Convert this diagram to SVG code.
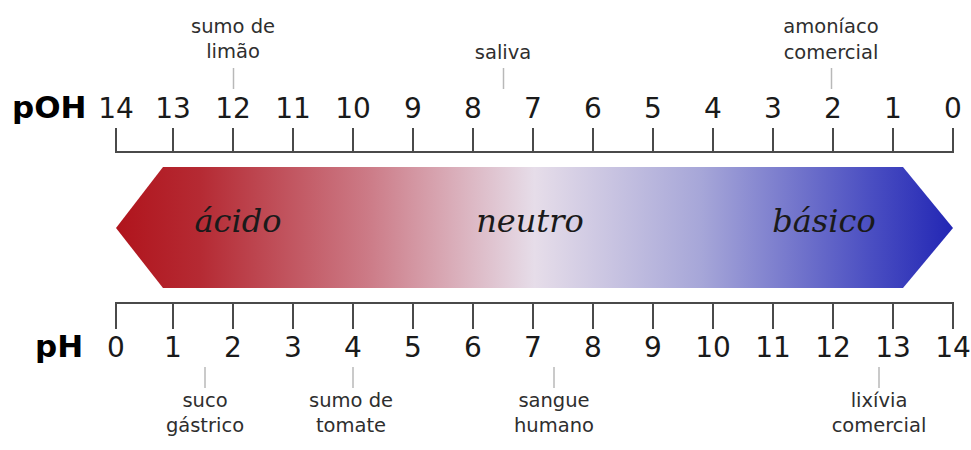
<svg xmlns="http://www.w3.org/2000/svg" width="971" height="450" viewBox="0 0 971 450">
<defs>
<linearGradient id="g" x1="116" y1="0" x2="953" y2="0" gradientUnits="userSpaceOnUse">
<stop offset="0" stop-color="#b0141c"/>
<stop offset="0.1" stop-color="#b52a33"/>
<stop offset="0.3" stop-color="#cc7a86"/>
<stop offset="0.5" stop-color="#e6dde9"/>
<stop offset="0.7" stop-color="#a6a6d8"/>
<stop offset="0.9" stop-color="#4b4fc2"/>
<stop offset="1" stop-color="#2226b4"/>
</linearGradient>
<style>
.ax{stroke:#4a4a4a;stroke-width:2;fill:none}
.ld{stroke:#b8b8b8;stroke-width:1.5}
.num{font-family:"DejaVu Sans",sans-serif;font-size:28px;fill:#1a1a1a;text-anchor:middle}
.big{font-family:"DejaVu Sans",sans-serif;font-size:31px;font-weight:bold;fill:#000}
.lab{font-family:"DejaVu Sans",sans-serif;font-size:19.5px;fill:#2e2e2e;text-anchor:middle}
.it{font-family:"DejaVu Serif",serif;font-style:italic;font-size:32px;fill:#1a1a1a;text-anchor:middle}
</style>
</defs>
<g id="arrow">
<polygon points="116,228 163,167 903,167 953,228 903,288 163,288" fill="url(#g)"/>
<text class="it" x="238" y="232">ácido</text>
<text class="it" x="530" y="232">neutro</text>
<text class="it" x="824" y="232">básico</text>
</g>
<g id="poh-axis">
<path class="ax" d="M116,128V152H953V128M173,128V152M233,128V152M293,128V152M353,128V152M413,128V152M473,128V152M533,128V152M593,128V152M653,128V152M713,128V152M773,128V152M833,128V152M893,128V152"/>
<text class="big" x="12" y="118">pOH</text>
<text class="num" y="118"><tspan x="116">14</tspan><tspan x="173">13</tspan><tspan x="233">12</tspan><tspan x="293">11</tspan><tspan x="353">10</tspan><tspan x="413">9</tspan><tspan x="473">8</tspan><tspan x="533">7</tspan><tspan x="593">6</tspan><tspan x="653">5</tspan><tspan x="713">4</tspan><tspan x="773">3</tspan><tspan x="833">2</tspan><tspan x="893">1</tspan><tspan x="953">0</tspan></text>
</g>
<g id="ph-axis">
<path class="ax" d="M116,329V303H953V329M173,303V329M233,303V329M293,303V329M353,303V329M413,303V329M473,303V329M533,303V329M593,303V329M653,303V329M713,303V329M773,303V329M833,303V329M893,303V329"/>
<text class="big" x="35" y="357">pH</text>
<text class="num" y="357"><tspan x="116">0</tspan><tspan x="173">1</tspan><tspan x="233">2</tspan><tspan x="293">3</tspan><tspan x="353">4</tspan><tspan x="413">5</tspan><tspan x="473">6</tspan><tspan x="533">7</tspan><tspan x="593">8</tspan><tspan x="653">9</tspan><tspan x="713">10</tspan><tspan x="773">11</tspan><tspan x="833">12</tspan><tspan x="893">13</tspan><tspan x="953">14</tspan></text>
</g>
<g id="connectors">
<line class="ld" x1="233.5" y1="68" x2="233.5" y2="89"/>
<line class="ld" x1="503.5" y1="68" x2="503.5" y2="89"/>
<line class="ld" x1="831.5" y1="68" x2="831.5" y2="89"/>
<line class="ld" x1="205" y1="367" x2="205" y2="388"/>
<line class="ld" x1="353" y1="367" x2="353" y2="388"/>
<line class="ld" x1="554" y1="367" x2="554" y2="388"/>
<line class="ld" x1="879" y1="367" x2="879" y2="388"/>
</g>
<g id="lbl-limao"><text class="lab" x="233" y="33">sumo de</text><text class="lab" x="233" y="58">limão</text></g>
<g id="lbl-saliva"><text class="lab" x="503" y="59">saliva</text></g>
<g id="lbl-amoniaco"><text class="lab" x="831" y="33">amoníaco</text><text class="lab" x="831" y="59">comercial</text></g>
<g id="lbl-gastrico"><text class="lab" x="205" y="407">suco</text><text class="lab" x="205" y="432">gástrico</text></g>
<g id="lbl-tomate"><text class="lab" x="351" y="407">sumo de</text><text class="lab" x="351" y="432">tomate</text></g>
<g id="lbl-sangue"><text class="lab" x="554" y="407">sangue</text><text class="lab" x="554" y="432">humano</text></g>
<g id="lbl-lixivia"><text class="lab" x="879" y="407">lixívia</text><text class="lab" x="879" y="432">comercial</text></g>
</svg>
